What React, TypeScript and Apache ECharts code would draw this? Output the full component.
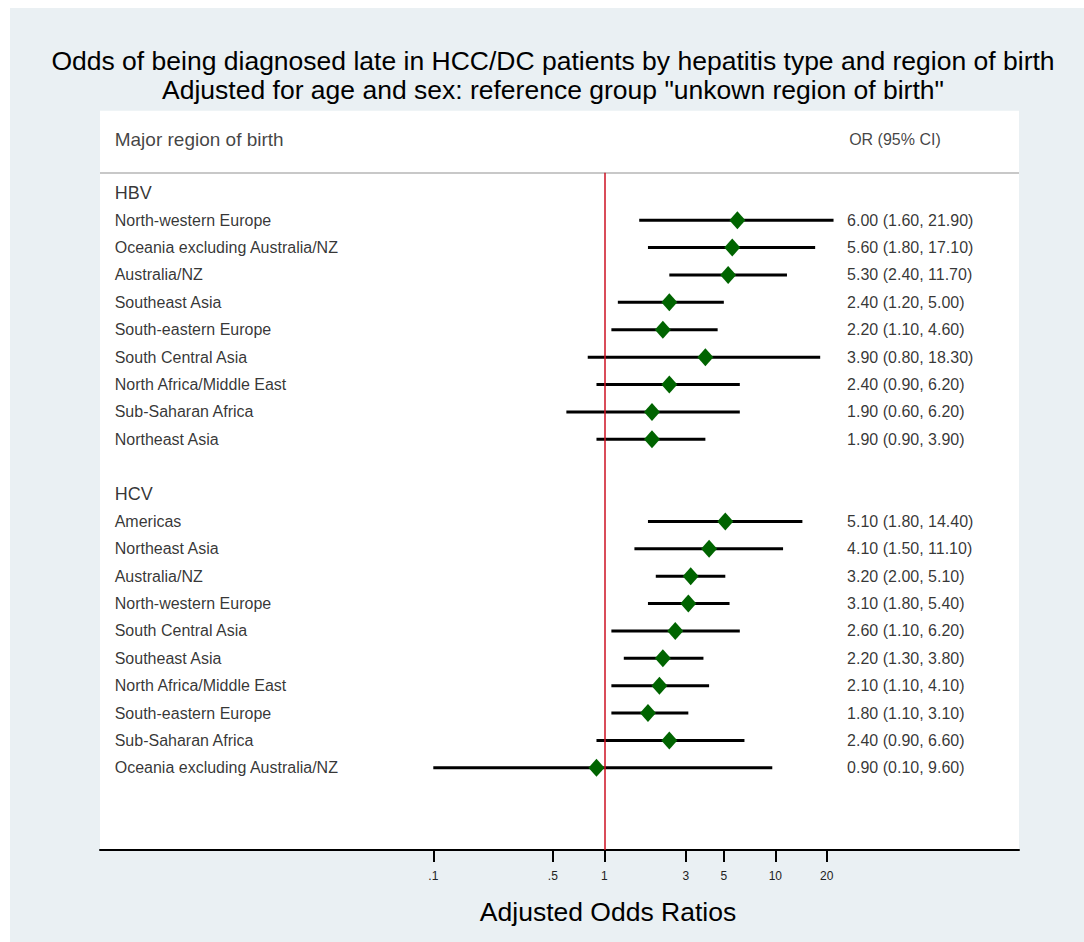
import React, { useEffect, useRef } from "react";
import * as echarts from "echarts";

// ---- data ----
const hbvNames = [
  "North-western Europe",
  "Oceania excluding Australia/NZ",
  "Australia/NZ",
  "Southeast Asia",
  "South-eastern Europe",
  "South Central Asia",
  "North Africa/Middle East",
  "Sub-Saharan Africa",
  "Northeast Asia",
];
const hbvOR = [6.0, 5.6, 5.3, 2.4, 2.2, 3.9, 2.4, 1.9, 1.9];
const hbvLo = [1.6, 1.8, 2.4, 1.2, 1.1, 0.8, 0.9, 0.6, 0.9];
const hbvHi = [21.9, 17.1, 11.7, 5.0, 4.6, 18.3, 6.2, 6.2, 3.9];

const hcvNames = [
  "Americas",
  "Northeast Asia",
  "Australia/NZ",
  "North-western Europe",
  "South Central Asia",
  "Southeast Asia",
  "North Africa/Middle East",
  "South-eastern Europe",
  "Sub-Saharan Africa",
  "Oceania excluding Australia/NZ",
];
const hcvOR = [5.1, 4.1, 3.2, 3.1, 2.6, 2.2, 2.1, 1.8, 2.4, 0.9];
const hcvLo = [1.8, 1.5, 2.0, 1.8, 1.1, 1.3, 1.1, 1.1, 0.9, 0.1];
const hcvHi = [14.4, 11.1, 5.1, 5.4, 6.2, 3.8, 4.1, 3.1, 6.6, 9.6];

const tickValues = [0.1, 0.5, 1, 3, 5, 10, 20];
const tickLabels = [".1", ".5", "1", "3", "5", "10", "20"];

const titleLines = [
  "Odds of being diagnosed late in HCC/DC patients by hepatitis type and region of birth",
  'Adjusted for age and sex: reference group "unkown region of birth"',
];
const axisTitle = "Adjusted Odds Ratios";
const leftHeader = "Major region of birth";
const rightHeader = "OR (95% CI)";
const groupNames = ["HBV", "HCV"];

// ---- layout constants (positions, not data) ----
const FONT = "'Liberation Sans', Arial, sans-serif";
const X_MIN = -2.949;
const X_MAX = 2.425;
const NAME_COL = -2.866;
const OR_COL = 1.417;
const OR_HEAD_COL = 1.429;
const HEADER_ROW = -1.95;
const SEP_ROW = -0.73;
const HBV_ROW = 0;
const HCV_ROW = 11;

const lg = (v: number) => Math.log10(v);
const fmt = (v: number) => v.toFixed(2);

export default function App() {
  const ref = useRef<HTMLDivElement>(null);

  useEffect(() => {
    if (!ref.current) return;
    const chart = echarts.init(ref.current, undefined, { renderer: "svg" });

    const rows: { name: string; or: number; lo: number; hi: number; k: number }[] = [];
    hbvNames.forEach((n, i) =>
      rows.push({ name: n, or: hbvOR[i], lo: hbvLo[i], hi: hbvHi[i], k: HBV_ROW + 1 + i })
    );
    hcvNames.forEach((n, i) =>
      rows.push({ name: n, or: hcvOR[i], lo: hcvLo[i], hi: hcvHi[i], k: HCV_ROW + 1 + i })
    );

    const textLabel = (size: number, color: string) => ({
      show: true,
      position: "right" as const,
      distance: 0,
      fontSize: size,
      fontFamily: FONT,
      color,
      align: "left" as const,
      verticalAlign: "middle" as const,
      formatter: (p: any) => p.data.text,
    });

    const textSeries = (size: number, color: string, data: any[]) => ({
      type: "scatter",
      silent: true,
      symbolSize: 1,
      itemStyle: { color: "transparent" },
      label: textLabel(size, color),
      data,
    });

    const option: any = {
      animation: false,
      backgroundColor: "#eaf0f3",
      grid: {
        left: 90,
        right: 65,
        top: 102.7,
        bottom: 92,
        show: true,
        backgroundColor: "#ffffff",
        borderWidth: 0,
      },
      xAxis: {
        type: "value",
        min: X_MIN,
        max: X_MAX,
        splitLine: { show: false },
        axisLine: { show: true, onZero: false, lineStyle: { color: "#000", width: 2 } },
        axisTick: {
          show: true,
          length: 12,
          customValues: tickValues.map(lg),
          lineStyle: { color: "#000", width: 2 },
        },
        axisLabel: {
          show: true,
          customValues: tickValues.map(lg),
          margin: 20,
          fontSize: 12,
          fontFamily: FONT,
          color: "#222",
          formatter: (v: number) => {
            const i = tickValues.findIndex((t) => Math.abs(lg(t) - v) < 1e-6);
            return i >= 0 ? tickLabels[i] : "";
          },
        },
      },
      yAxis: {
        type: "value",
        inverse: true,
        min: -3,
        max: 24,
        show: false,
        splitLine: { show: false },
      },
      graphic: [
        ...titleLines.map((t, i) => ({
          type: "text",
          x: 543,
          y: 53 + i * 29,
          style: {
            text: t,
            font: `26.5px ${FONT}`,
            fill: "#000",
            textAlign: "center",
            textVerticalAlign: "middle",
          },
        })),
        {
          type: "text",
          x: 598,
          y: 904,
          style: {
            text: axisTitle,
            font: `26.5px ${FONT}`,
            fill: "#000",
            textAlign: "center",
            textVerticalAlign: "middle",
          },
        },
      ],
      series: [
        // separator line and reference line
        {
          type: "scatter",
          data: [],
          silent: true,
          markLine: {
            silent: true,
            symbol: "none",
            label: { show: false },
            animation: false,
            data: [
              [
                { coord: [X_MIN, SEP_ROW], lineStyle: { color: "#c8c8c8", width: 2, type: "solid" } },
                { coord: [X_MAX, SEP_ROW] },
              ],
              [
                { coord: [0, SEP_ROW], lineStyle: { color: "#cc1122", width: 1.5, type: "solid" } },
                { coord: [0, 24] },
              ],
            ],
          },
        },
        // confidence intervals
        {
          type: "custom",
          silent: true,
          data: rows.map((r) => [lg(r.lo), lg(r.hi), r.k]),
          encode: { x: [0, 1], y: 2 },
          renderItem: (params: any, api: any) => {
            const a = api.coord([api.value(0), api.value(2)]);
            const b = api.coord([api.value(1), api.value(2)]);
            return {
              type: "line",
              shape: { x1: a[0], y1: a[1], x2: b[0], y2: b[1] },
              style: { stroke: "#000", lineWidth: 3 },
            };
          },
          z: 3,
        },
        // point estimates
        {
          type: "scatter",
          silent: true,
          symbol: "diamond",
          symbolSize: [16, 18],
          itemStyle: { color: "#006400", opacity: 1 },
          data: rows.map((r) => [lg(r.or), r.k]),
          z: 4,
        },
        // row names
        textSeries(
          16,
          "#000",
          rows.map((r) => ({ value: [NAME_COL, r.k], text: r.name }))
        ),
        // OR text
        textSeries(
          16,
          "#000",
          rows.map((r) => ({
            value: [OR_COL, r.k],
            text: `${fmt(r.or)} (${fmt(r.lo)}, ${fmt(r.hi)})`,
          }))
        ),
        // group headers
        textSeries(18, "#000", [
          { value: [NAME_COL, HBV_ROW], text: groupNames[0] },
          { value: [NAME_COL, HCV_ROW], text: groupNames[1] },
        ]),
        // column headers
        textSeries(19, "#111", [{ value: [NAME_COL, HEADER_ROW], text: leftHeader }]),
        textSeries(16, "#111", [{ value: [OR_HEAD_COL, HEADER_ROW], text: rightHeader }]),
      ],
    };

    chart.setOption(option);
    return () => chart.dispose();
  }, []);

  return (
    <div
      ref={ref}
      style={{ position: "fixed", left: 10, top: 8, width: 1074, height: 934 }}
    />
  );
}
